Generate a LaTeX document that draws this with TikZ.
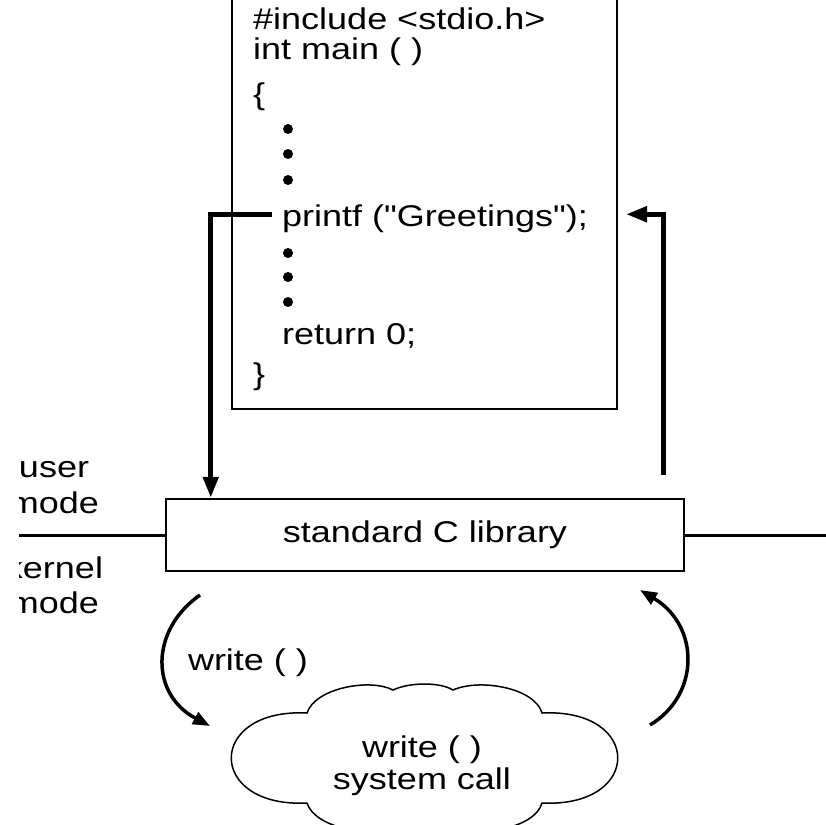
\documentclass[tikz,border=0pt]{standalone}
\usepackage{fontspec}
\setmainfont{Liberation Sans}[FakeStretch=1.2, Ligatures=TeXOff]
\usetikzlibrary{arrows.meta,calc}

\begin{document}
\begin{tikzpicture}[x=1pt, y=-1pt,
  txt/.style={inner sep=0pt, font=\fontsize{30}{36}\selectfont},
  codeline/.style={txt, anchor=base west},
  modelbl/.style={txt, anchor=base},
  codedot/.style={circle, fill=black, inner sep=0pt, minimum size=10pt},
  codebox/.style={draw, line width=2pt, inner sep=0pt},
  libbox/.style={draw, line width=2.5pt, inner sep=0pt, txt},
  modeline/.style={line width=3pt},
  bigarrow/.style={line width=5pt, -{Triangle[length=21pt,width=15pt]}},
  bendarrow/.style={line width=3.5pt, -{Triangle[length=17pt,width=13pt]}},
  cloudline/.style={line width=1.5pt}]
\useasboundingbox (0,0) rectangle (826,824);
\clip (19,0) rectangle (826,824);

% program in user space
\node[codebox, minimum width=385pt, minimum height=424pt] (code) at (424.5,197) {};
\node[codeline] (include) at (253,30) {\#include <stdio.h>};
\node[codeline] (main) at (253,60) {int main ( )};
\node[codeline] (lbrace) at (253,105) {\{};
\foreach \y [count=\i] in {129,154,180}
  \node[codedot] (dotA\i) at (288,\y) {};
\node[codeline] (printf) at (282,226) {printf ("Greetings");};
\foreach \y [count=\i] in {253,277,302}
  \node[codedot] (dotB\i) at (288,\y) {};
\node[codeline] (return) at (282,344) {return 0;};
\node[codeline] (rbrace) at (253,384) {\}};

% library and mode boundary
\node[libbox, minimum width=518pt, minimum height=72pt] (lib) at (425,535) {standard C library};
\coordinate (bleft) at (19,535);
\coordinate (bright) at (826,535);
\draw[modeline] (bleft) -- (lib.west);
\draw[modeline] (lib.east) -- (bright);

\node[modelbl] (user) at (54,477) {user};
\node[modelbl] (umode) at (54,513) {mode};
\node[modelbl] (kernel) at (54,578) {kernel};
\node[modelbl] (kmode) at (54,613) {mode};

% call and return
\draw[bigarrow] ($(printf.west)+(-10,-4)$) -| ($(lib.north west)+(46,0)$);
\coordinate (retfoot) at (663,475);
\draw[bigarrow] (retfoot) |- ($(code.east |- printf.west)+(8,-4)$);

% system call
\draw[cloudline] (307,713) .. controls (315,688) and (370,678) .. (393,690)
  .. controls (410,682) and (440,682) .. (453,690)
  .. controls (480,678) and (535,688) .. (542,713)
  .. controls (643,708) and (643,808) .. (542,803)
  .. controls (535,828) and (480,838) .. (453,826)
  .. controls (440,834) and (410,834) .. (393,826)
  .. controls (370,838) and (315,828) .. (307,803)
  .. controls (206,808) and (206,708) .. cycle;
\node[txt, anchor=base] (systop) at (422,757) {write ( )};
\node[txt, anchor=base] (sysbot) at (422,789) {system call};

\coordinate (callout) at (200,595);
\coordinate (callin) at (210,726);
\coordinate (backout) at (650,725);
\coordinate (backin) at (640,590);
\draw[bendarrow] (callout) .. controls (150,630) and (150,694) .. (callin);
\draw[bendarrow] (backout) .. controls (700,695) and (700,626) .. (backin);
\node[txt, anchor=base] (writelbl) at (248,670) {write ( )};
\end{tikzpicture}
\end{document}
